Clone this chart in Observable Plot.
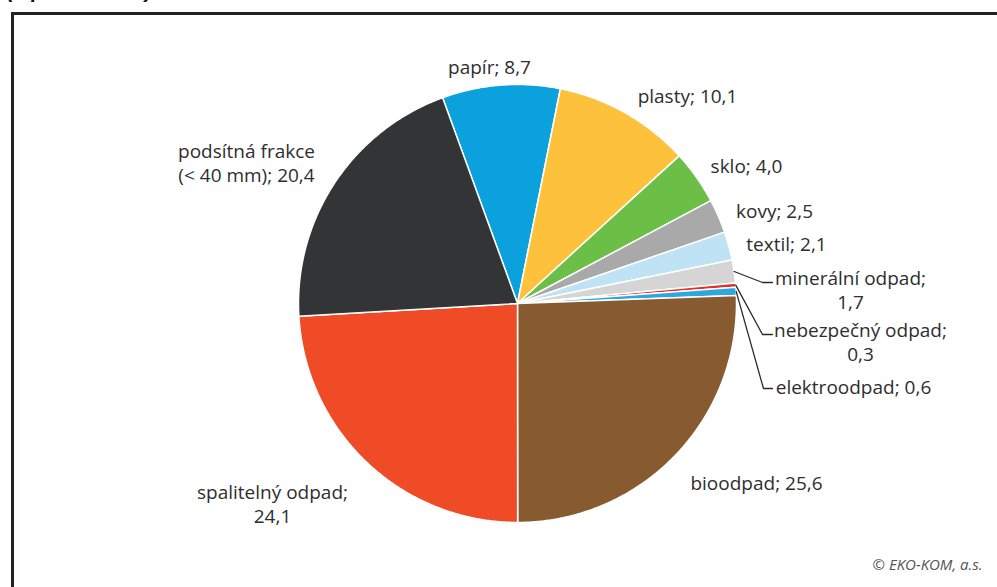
<!DOCTYPE html>
<html>
<head>
<meta charset="utf-8">
<script src="https://cdn.jsdelivr.net/npm/d3@7"></script>
<script src="https://cdn.jsdelivr.net/npm/@observablehq/plot@0.6"></script>
<style>
  html, body { margin: 0; padding: 0; background: #fff; }
  body { width: 997px; height: 587px; position: relative; overflow: hidden; }
  #title { position: absolute; left: 7px; top: -21px; font: italic bold 21px "Liberation Sans", Arial, sans-serif; color: #111; white-space: nowrap; }
  #chart { position: absolute; left: 0; top: 0; }
  #frame { position: absolute; left: 11px; top: 12px; width: 1000px; height: 600px; border: 3px solid #222; box-sizing: border-box; pointer-events: none; }
</style>
</head>
<body>
<div id="title">(v procentech).</div>
<div id="chart"></div>
<div id="frame"></div>
<script>
// ---- data ----
const categories = ["papír", "plasty", "sklo", "kovy", "textil", "minerální odpad",
  "nebezpečný odpad", "elektroodpad", "bioodpad", "spalitelný odpad", "podsítná frakce (< 40 mm)"];
const values = [8.7, 10.1, 4.0, 2.5, 2.1, 1.7, 0.3, 0.6, 25.6, 24.1, 20.4];
const labelTexts = ["papír; 8,7", "plasty; 10,1", "sklo; 4,0", "kovy; 2,5", "textil; 2,1",
  "minerální odpad;\n1,7", "nebezpečný odpad;\n0,3", "elektroodpad; 0,6", "bioodpad; 25,6",
  "spalitelný odpad;\n24,1", "podsítná frakce\n(< 40 mm); 20,4"];
const colors = ["#0aa1dc", "#fdc13b", "#6bbf46", "#a9a9a9", "#bfe3f4", "#d5d5d5",
  "#e2312b", "#2ea6df", "#875a30", "#ef4b27", "#323436"];
const credit = "© EKO-KOM, a.s.";

// ---- layout (pixel units relative to pie centre, y up) ----
const R = 219;
const startDeg = -20;
const labelLayout = [
  {x: -28, y: 237},
  {x: 170, y: 208},
  {x: 229, y: 138},
  {x: 257, y: 93},
  {x: 269, y: 60},
  {x: 333, y: 14, bend: [245, 21], end: [255, 21]},
  {x: 343, y: -38, bend: [245, -31], end: [255, -31]},
  {x: 336, y: -83, bend: [246, -85], end: [255, -85]},
  {x: 239, y: -179},
  {x: -245, y: -200},
  {x: -271, y: 141}
];

const arcs = d3.pie().sort(null).value(d => d)
  .startAngle(startDeg * Math.PI / 180)
  .endAngle((startDeg + 360) * Math.PI / 180)(values);

const slicePts = [];
arcs.forEach((a, i) => {
  const name = categories[i];
  slicePts.push({name, x: 0, y: 0});
  const n = Math.max(2, Math.ceil((a.endAngle - a.startAngle) / (0.4 * Math.PI / 180)));
  for (let k = 0; k <= n; k++) {
    const t = a.startAngle + (a.endAngle - a.startAngle) * k / n;
    slicePts.push({name, x: R * Math.sin(t), y: R * Math.cos(t)});
  }
  slicePts.push({name, x: 0, y: 0});
});

const labelData = labelTexts.map((t, i) => ({text: t, ...labelLayout[i]}));

const leaderPts = [];
arcs.forEach((a, i) => {
  const L = labelLayout[i];
  if (!L.bend) return;
  const mid = (a.startAngle + a.endAngle) / 2;
  const name = categories[i];
  leaderPts.push({name, x: R * Math.sin(mid), y: R * Math.cos(mid)});
  leaderPts.push({name, x: L.bend[0], y: L.bend[1]});
  leaderPts.push({name, x: L.end[0], y: L.end[1]});
});

const plot = Plot.plot({
  width: 997,
  height: 587,
  margin: 0,
  x: {domain: [-517, 480], axis: null},
  y: {domain: [-284, 303], axis: null},
  color: {domain: categories, range: colors},
  style: {background: "transparent", fontFamily: "'Open Sans', sans-serif"},
  marks: [
    Plot.line(slicePts, {x: "x", y: "y", z: "name", fill: "name", stroke: "white", strokeWidth: 1.5, strokeLinejoin: "round", curve: "linear"}),
    Plot.line(leaderPts, {x: "x", y: "y", z: "name", stroke: "#2a2a2a", strokeWidth: 1.3}),
    Plot.text(labelData, {x: "x", y: "y", text: "text", textAnchor: "middle", lineAnchor: "middle", lineHeight: 1.25, fontSize: 19, fontFamily: "'Open Sans', sans-serif", fill: "#2e2e2e"}),
    Plot.text([credit], {x: () => 465, y: () => -262, text: d => d, textAnchor: "end", fontSize: 15, fontStyle: "italic", fontFamily: "'Open Sans', sans-serif", fill: "#555"})
  ]
});
document.getElementById("chart").appendChild(plot);
</script>
</body>
</html>
